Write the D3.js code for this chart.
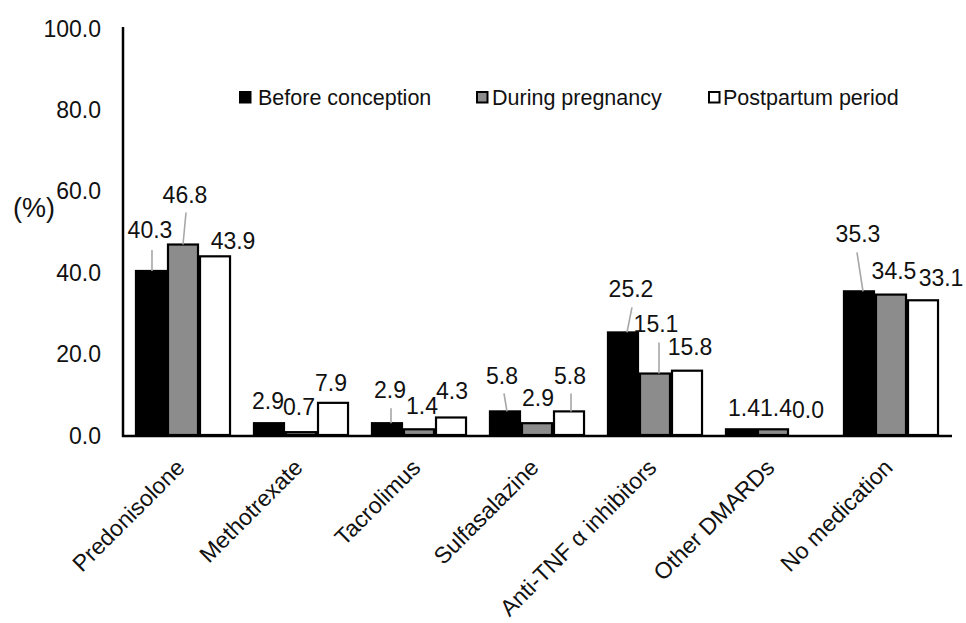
<!DOCTYPE html>
<html>
<head>
<meta charset="utf-8">
<script src="https://cdn.jsdelivr.net/npm/d3@7"></script>
<style>
  html, body { margin: 0; padding: 0; background: #fff; }
  svg text { font-family: "Liberation Sans", Arial, sans-serif; fill: #111; }
</style>
</head>
<body>
<svg id="chart" width="966" height="623"></svg>
<script>
// Medication use (%) by period
const categories = ["Predonisolone", "Methotrexate", "Tacrolimus", "Sulfasalazine",
                    "Anti-TNF \u03b1 inhibitors", "Other DMARDs", "No medication"];
const series = ["Before conception", "During pregnancy", "Postpartum period"];
const beforeConception = [40.3, 2.9, 2.9, 5.8, 25.2, 1.4, 35.3];
const duringPregnancy  = [46.8, 0.7, 1.4, 2.9, 15.1, 1.4, 34.5];
const postpartumPeriod = [43.9, 7.9, 4.3, 5.8, 15.8, 0.0, 33.1];
const yTicks = [0, 20, 40, 60, 80, 100];

const seriesValues = [beforeConception, duringPregnancy, postpartumPeriod];
const fills = ["#000000", "#8c8c8c", "#ffffff"];

// Value label placement: [dx, dy] of label centre from the bar's top centre,
// plus an optional leader line [topDx, topDy, bottomDx] relative to the bar.
const labelLayout = [
  [[-1, -41, [1, -21, 1]], [2, -50, [3, -32, 0]], [18, -16]],
  [[-1, -22], [-2, -25], [-2, -20]],
  [[3, -33, [4, -15, 4]], [3, -24], [1, -27]],
  [[-3, -36, [-1, -18, 2]], [1, -25], [1, -36, [2, -18, 2]]],
  [[8, -44, [9, -25, 4]], [1, -50, [4, -31, 4]], [3, -24]],
  [[3, -22], [3, -22], [3, -25]],
  [[-1, -58, [-2, -39, 4]], [3, -24], [18, -23]]
];

const svg = d3.select("#chart");
const margin = { left: 124, right: 16, top: 28, bottom: 187 };
const W = 966, H = 623;
const plotBottom = H - margin.bottom; // 436

const x = d3.scaleBand()
  .domain(categories)
  .range([margin.left, W - margin.right])
  .paddingInner(0.186)
  .paddingOuter(0.093);

const xs = d3.scaleBand()
  .domain(series)
  .range([0, x.bandwidth()]);

const y = d3.scaleLinear()
  .domain([0, 100])
  .range([plotBottom - 1, margin.top]);

// Bars
const groups = svg.append("g").selectAll("g")
  .data(categories)
  .join("g")
  .attr("transform", d => `translate(${x(d)},0)`);

groups.each(function (cat, ci) {
  const g = d3.select(this);
  series.forEach((s, si) => {
    const v = seriesValues[si][ci];
    const x0 = xs(s), bw = xs.bandwidth();
    const top = y(v), h = y(0) - y(v);
    g.append("rect")
      .attr("x", x0 + 1)
      .attr("y", top)
      .attr("width", bw - 2)
      .attr("height", Math.max(h, 0))
      .attr("fill", fills[si])
      .attr("stroke", "#000")
      .attr("stroke-width", 2.2);
  });
});

// Axes
const yAxis = d3.axisLeft(y).tickValues(yTicks).tickSize(0).tickPadding(22)
  .tickFormat(d3.format(".1f"));
const gy = svg.append("g")
  .attr("transform", `translate(${margin.left - 1},0)`)
  .call(yAxis);
gy.select(".domain").remove();
gy.selectAll("text").style("font-size", "23px").attr("dy", "0.35em");
svg.append("line")
  .attr("x1", margin.left - 1).attr("x2", margin.left - 1)
  .attr("y1", y(100) - 1).attr("y2", plotBottom + 1)
  .attr("stroke", "#000").attr("stroke-width", 2.5);

const xAxis = d3.axisBottom(x).tickSize(0).tickPadding(0);
const gx = svg.append("g")
  .attr("transform", `translate(0,${plotBottom})`)
  .call(xAxis);
gx.select(".domain").remove();
gx.selectAll("text")
  .style("font-size", "23px")
  .attr("text-anchor", "end")
  .attr("dy", 0)
  .attr("y", 0).attr("x", 0)
  .attr("transform", "translate(3,33) rotate(-45)");
svg.append("line")
  .attr("x1", margin.left - 2).attr("x2", W - margin.right + 2)
  .attr("y1", plotBottom).attr("y2", plotBottom)
  .attr("stroke", "#000").attr("stroke-width", 2.5);

// Value labels with leader lines
const labels = svg.append("g");
categories.forEach((cat, ci) => {
  series.forEach((s, si) => {
    const v = seriesValues[si][ci];
    const cx = x(cat) + xs(s) + xs.bandwidth() / 2;
    const top = y(v);
    const lay = labelLayout[ci][si];
    if (lay[2]) {
      labels.append("line")
        .attr("x1", cx + lay[2][0]).attr("y1", top + lay[2][1])
        .attr("x2", cx + lay[2][2]).attr("y2", top)
        .attr("stroke", "#a6a6a6").attr("stroke-width", 1.6);
    }
    labels.append("text")
      .attr("x", cx + lay[0])
      .attr("y", top + lay[1])
      .attr("dy", "0.36em")
      .attr("text-anchor", "middle")
      .style("font-size", "23px")
      .text(d3.format(".1f")(v));
  });
});

// Axis unit
svg.append("text")
  .attr("x", 13).attr("y", 207).attr("dy", "0.36em")
  .style("font-size", "27px")
  .text("(%)");

// Legend
const legendSwatchX = [239, 476, 708];
const legendTextX = [258, 492, 723];
const legend = svg.append("g");
series.forEach((s, i) => {
  legend.append("rect")
    .attr("x", legendSwatchX[i] + 1).attr("y", 92)
    .attr("width", 10.5).attr("height", 10.5)
    .attr("fill", fills[i]).attr("stroke", "#000").attr("stroke-width", 2);
  legend.append("text")
    .attr("x", legendTextX[i]).attr("y", 97).attr("dy", "0.36em")
    .style("font-size", "21.5px")
    .text(s);
});
</script>
</body>
</html>
